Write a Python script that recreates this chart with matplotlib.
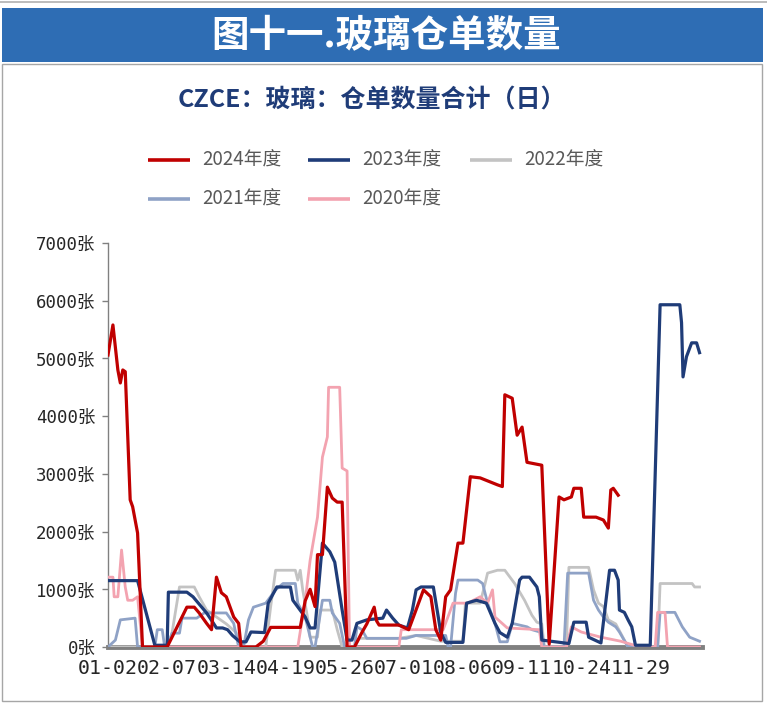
import matplotlib
matplotlib.use("Agg")
import matplotlib.pyplot as plt
from matplotlib.patches import Rectangle
from matplotlib.lines import Line2D

# ---------------- data (trading-day index, warehouse receipts) ----------------
x_2024 = [0, 2, 4, 5, 6, 7, 9, 10, 12, 14, 24, 32, 35, 37, 40, 42, 44, 46, 48, 51, 53, 54,
          60, 63, 66, 78, 80, 82, 84, 85, 87, 89, 91, 93, 95, 97, 100, 103, 105, 108, 109,
          110, 118, 122, 126, 128, 131, 133, 135, 137, 139, 142, 144, 147, 151, 158, 160,
          161, 164, 166, 168, 170, 176, 179, 183, 185, 188, 189, 192, 193, 198, 201, 203,
          204, 205, 207]
y_2024 = [5060, 5580, 4800, 4575, 4800, 4770, 2550, 2430, 1975, 0, 0, 690, 690, 590, 410,
          300, 1210, 940, 870, 520, 410, 0, 0, 100, 340, 340, 800, 1000, 700, 1600, 1600,
          2770, 2580, 2510, 2510, 0, 0, 250, 400, 690, 450, 380, 380, 300, 760, 990, 870,
          300, 120, 870, 990, 1800, 1800, 2950, 2930, 2810, 2780, 4370, 4310, 3670, 3810,
          3200, 3150, 50, 2600, 2550, 2600, 2750, 2750, 2250, 2250, 2200, 2060, 2720, 2750,
          2630]

x_2023 = [0, 12, 19, 24, 24.5, 32, 34.5, 40, 42.5, 44, 46.5, 48.5, 50.5, 53.5, 56, 58,
          63.5, 65, 68.5, 74, 75, 80, 82, 84, 87, 90, 92, 95, 97, 99, 101, 105, 111.5, 113,
          115.5, 118, 121.5, 123.5, 125, 127, 132, 134, 135, 137, 144, 145.5, 149.5, 153.5,
          157, 159, 162, 164, 167, 168, 171, 174, 175, 176, 187, 189, 194, 195, 200, 203.5,
          205.5, 207, 207.5, 209.5, 211, 212.5, 214, 220, 224, 232, 232.7, 233.3, 234.7,
          236.8, 238.8, 240]
y_2023 = [1150, 1150, 30, 30, 950, 950, 870, 590, 430, 330, 330, 300, 200, 90, 90, 260,
          250, 760, 1040, 1040, 810, 520, 330, 330, 1800, 1650, 1470, 640, 120, 120, 410,
          470, 500, 640, 500, 380, 330, 640, 990, 1040, 1040, 520, 250, 80, 80, 760, 810,
          760, 410, 250, 170, 410, 1160, 1210, 1210, 1040, 870, 120, 60, 430, 430, 170, 70,
          1330, 1330, 1160, 640, 600, 470, 350, 30, 30, 5930, 5930, 5620, 4680, 5030, 5270,
          5270, 5100]

x_2022 = [0, 24, 26, 29, 35, 37, 40, 44, 48, 52, 55, 64, 66, 68, 76, 77, 78, 79, 81, 82,
          85, 86, 91, 93, 95, 100, 102, 118, 125, 135, 144, 145, 151, 153, 154, 158, 161,
          165, 169, 172, 174, 176, 177, 186, 187, 195, 197, 199, 201, 203, 206, 208, 211,
          223, 224, 237, 238, 240]
y_2022 = [0, 0, 250, 1040, 1040, 870, 640, 520, 400, 250, 0, 0, 700, 1330, 1330, 1160,
          1330, 990, 500, 170, 170, 640, 640, 300, 0, 0, 150, 150, 200, 100, 100, 760, 760,
          1100, 1280, 1330, 1330, 1100, 810, 550, 430, 400, 0, 0, 1380, 1380, 990, 760, 700,
          470, 400, 240, 0, 0, 1100, 1100, 1040, 1040]

x_2021 = [0, 3, 5, 11, 12, 19, 20, 22, 23, 24, 26, 29, 30, 36, 39, 48, 51, 53, 55, 57, 59,
          64, 68, 71, 76, 77, 80, 83, 84, 87, 90, 91, 94, 96, 100, 101, 103, 105, 121, 125,
          137, 138, 139, 141, 142, 150, 152, 154, 157, 159, 162, 164, 170, 172, 176, 177,
          185, 186.5, 195, 197, 199, 201, 203, 206, 207.5, 211, 223, 224, 230, 233, 236, 240]
y_2021 = [0, 120, 470, 500, 0, 0, 300, 300, 0, 0, 240, 240, 500, 500, 590, 590, 410, 0, 0,
          470, 690, 760, 990, 1100, 1100, 760, 520, 0, 0, 810, 810, 590, 410, 0, 0, 350,
          300, 150, 150, 200, 200, 0, 0, 930, 1160, 1160, 1100, 760, 410, 90, 90, 410, 350,
          300, 250, 0, 0, 1280, 1280, 810, 640, 520, 430, 350, 260, 0, 0, 600, 600, 350,
          170, 100]

x_2020 = [0, 2, 2.5, 4, 5.5, 7, 8, 10, 12, 14, 77, 80, 82, 85, 87, 89, 89.5, 94, 95, 97,
          98, 118, 119, 136, 140, 146, 151, 154, 156, 157, 162, 175, 176, 186, 188, 192,
          200, 208, 216, 222, 223, 226, 227, 240]
y_2020 = [1210, 1210, 870, 870, 1680, 1040, 810, 810, 870, 0, 0, 800, 1500, 2250, 3290,
          3640, 4500, 4500, 3100, 3050, 0, 0, 300, 300, 760, 760, 870, 760, 990, 520, 330,
          300, 0, 0, 350, 260, 170, 100, 0, 0, 600, 600, 0, 0]

series_names = ['2024年度', '2023年度', '2022年度', '2021年度', '2020年度']
tick_labels = ['01-02', '02-07', '03-14', '04-19', '05-26', '07-01', '08-06', '09-11',
               '10-24', '11-29']
y_ticks = [0, 1000, 2000, 3000, 4000, 5000, 6000, 7000]

# ---------------- styling ----------------
C24, C23, C22, C21, C20 = '#C00000', '#1F3C78', '#C3C3C3', '#8FA2C6', '#F3A3B0'
CJK = ['Noto Sans CJK SC', 'DejaVu Sans']
MONO = ['DejaVu Sans Mono', 'Noto Sans CJK SC']

W, H = 767, 704
fig = plt.figure(figsize=(W / 100, H / 100), dpi=100)
fig.patch.set_facecolor('white')


def fx(x):
    return x / W


def fy(y):
    return 1 - y / H


# outer frame and banner
fig.add_artist(Rectangle((fx(2), fy(701)), fx(760), (699 - 62) / H, transform=fig.transFigure,
                         facecolor='white', edgecolor='#A6A6A6', lw=1.0, zorder=0))
fig.add_artist(Line2D([fx(0), fx(767)], [fy(2), fy(2)], transform=fig.transFigure,
                      color='#B0B0B0', lw=1.2))
fig.add_artist(Rectangle((fx(2), fy(62)), fx(761), 54 / H, transform=fig.transFigure,
                         facecolor='#2E6DB4', edgecolor='none', zorder=1))
fig.text(fx(386), fy(36), '图十一.玻璃仓单数量', color='white', fontsize=27,
         fontweight='bold', family=CJK, ha='center', va='center', zorder=2)
fig.text(fx(372), fy(101), 'CZCE：玻璃：仓单数量合计（日）', color='#1F3C78',
         fontsize=18, fontweight='bold', family=CJK, ha='center', va='center')

# legend (manual)
leg = [(148, 160, C24, series_names[0]), (308, 160, C23, series_names[1]),
       (470, 160, C22, series_names[2]), (148, 199, C21, series_names[3]),
       (308, 199, C20, series_names[4])]
for (lx, ly, c, name) in leg:
    fig.add_artist(Line2D([fx(lx), fx(lx + 42)], [fy(ly), fy(ly)], transform=fig.transFigure,
                          color=c, lw=2.6, solid_capstyle='butt'))
    fig.text(fx(lx + 54), fy(ly), name, color='#595959', fontsize=13.5, family=CJK,
             ha='left', va='center')

# axes
ax = fig.add_axes([fx(108), fy(647), (702 - 108) / W, (647 - 243) / H])
ax.set_facecolor('white')
ax.plot(x_2022, y_2022, color=C22, lw=2.0, zorder=3)
ax.plot(x_2021, y_2021, color=C21, lw=2.0, zorder=4)
ax.plot(x_2020, y_2020, color=C20, lw=2.0, zorder=5)
ax.plot(x_2023, y_2023, color=C23, lw=2.3, zorder=6)
ax.plot(x_2024, y_2024, color=C24, lw=2.3, zorder=7)

ax.set_xlim(0, 241)
ax.set_ylim(0, 7000)
ax.set_xticks(list(range(0, 24 * len(tick_labels), 24)))
ax.set_xticklabels(tick_labels, family=MONO, fontsize=14.3, color='#262626')
ax.set_yticks(y_ticks)
ax.set_yticklabels([f'{v}张' for v in y_ticks], family=MONO, fontsize=12.5, color='#262626')
ax.tick_params(axis='x', length=0, pad=9)
ax.tick_params(axis='y', direction='out', length=4, width=1, color='#808080', pad=5)
for s in ['top', 'right']:
    ax.spines[s].set_visible(False)
ax.spines['left'].set_color('#808080')
ax.spines['left'].set_linewidth(1.0)
ax.spines['bottom'].set_color('#808080')
ax.spines['bottom'].set_linewidth(3.5)
ax.spines['bottom'].set_zorder(2)

fig.savefig('out.png', dpi=100)
